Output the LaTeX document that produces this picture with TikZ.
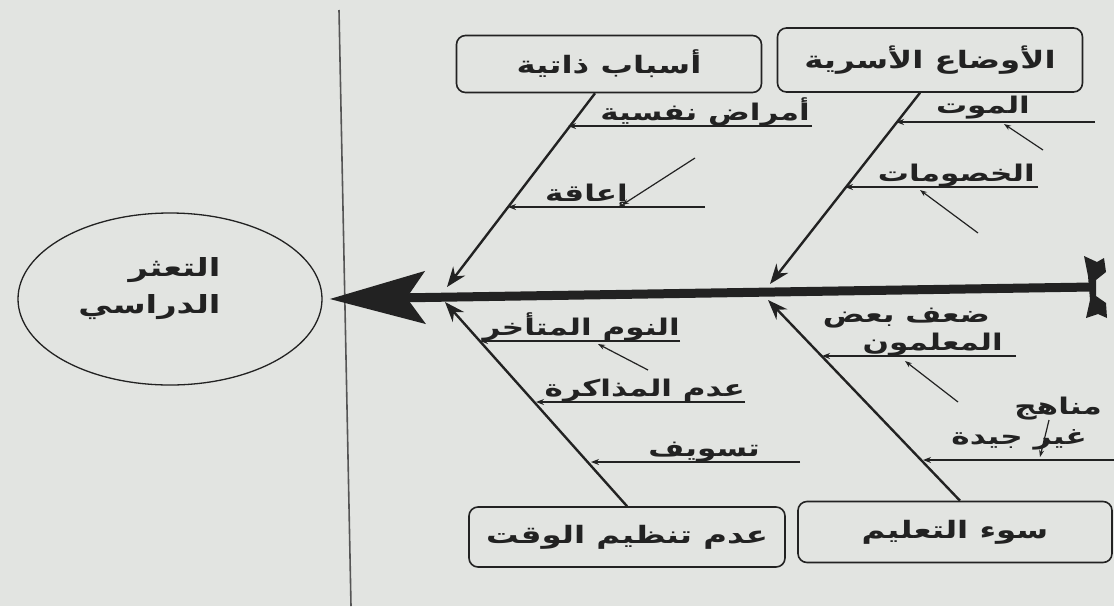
\documentclass[tikz,border=0pt]{standalone}
\usepackage{fontspec}
\usetikzlibrary{arrows.meta,shapes.geometric,calc}
\newfontfamily\arabicfont[Script=Arabic,FakeStretch=1.35]{DejaVu Sans}
\TeXXeTstate=1
\definecolor{bg}{RGB}{226,228,225}
\definecolor{ink}{RGB}{34,34,34}
\definecolor{rule}{RGB}{85,85,85}
\newcommand\artxt[1]{\beginR #1\endR}
\tikzset{
  box/.style={draw=ink, line width=1.6pt, rounded corners=9pt, fill=none,
    font=\arabicfont\bfseries\fontsize{24}{28}\selectfont, text=ink},
  lab/.style={font=\arabicfont\bfseries\fontsize{23}{27}\selectfont, text=ink, inner sep=0pt, anchor=base east},
  bone/.style={draw=ink, line width=2.4pt, -{Stealth[length=20pt,width=15pt]}},
  sub/.style={draw=ink, line width=1.4pt, -{Stealth[length=8pt,width=6pt]}},
  subsub/.style={draw=ink, line width=1.2pt, -{Stealth[length=7pt,width=5pt]}}
}
\begin{document}
\begin{tikzpicture}[x=1pt,y=-1pt]
\useasboundingbox (0,0) rectangle (1114,606);
\fill[bg] (0,0) rectangle (1114,606);

% divider line
\coordinate (vtop) at (339,10);
\coordinate (vbot) at (351,606);
\draw[rule, line width=1.6pt] (vtop) -- (vbot);

% effect
\node[draw=ink, line width=1.3pt, ellipse, minimum width=304pt, minimum height=172pt] (effect) at (170,299) {};
\node[font=\arabicfont\bfseries\fontsize{25}{37}\selectfont, text=ink, align=right, anchor=east] (efftext) at (224,289)
  {\artxt{التعثر}\\ \artxt{الدراسي}};

% spine
\coordinate (tail) at (1092,287);
\draw[ink, line width=9pt, -{Stealth[length=95pt,width=52pt,inset=18pt]}] (tail) -- ([xshift=7pt]effect.east);
\fill[ink] (1084,256) -- (1097,262) -- (1104,258) -- (1106,272) -- (1096,280) -- (1096,296)
  -- (1106,303) -- (1107,318) -- (1098,314) -- (1086,318) -- (1090,300) -- (1088,276) -- cycle;

% category boxes
\node[box, minimum width=305pt, minimum height=57pt] (b1) at (609,64) {\artxt{أسباب ذاتية}\hspace{36pt}};
\node[box, minimum width=305pt, minimum height=64pt] (b2) at (930,60) {\artxt{الأوضاع الأسرية}\hspace{26pt}};
\node[box, minimum width=316pt, minimum height=60pt] (b3) at (627,537) {\artxt{عدم تنظيم الوقت}};
\node[box, minimum width=314pt, minimum height=61pt] (b4) at (955,532) {\artxt{سوء التعليم}\hspace{42pt}};

% bone tips on the spine
\coordinate (t1) at (447,287);
\coordinate (t2) at (770,284);
\coordinate (t3) at (445,302);
\coordinate (t4) at (768,300);

\draw[bone] ([xshift=-14pt]b1.south) -- (t1);
\draw[bone] ([xshift=-10pt]b2.south) -- (t2);
\draw[bone] (b3.north) -- (t3);
\draw[bone] ([xshift=5pt]b4.north) -- (t4);

% sub causes: upper left bone
\node[lab] (l1) at (810,120) {\artxt{أمراض نفسية}};
\coordinate (l1r) at (812,126); \coordinate (l1b) at (568,126);
\draw[sub] (l1r) -- (l1b);
\node[lab] (l2) at (628,201) {\artxt{إعاقة}};
\coordinate (l2r) at (705,207); \coordinate (l2b) at (508,207);
\draw[sub] (l2r) -- (l2b);
\coordinate (d2s) at (695,158); \coordinate (d2e) at (622,205);
\draw[subsub] (d2s) -- (d2e);

% upper right bone
\node[lab] (l3) at (1030,113) {\artxt{الموت}};
\coordinate (l3r) at (1095,122); \coordinate (l3b) at (896,122);
\draw[sub] (l3r) -- (l3b);
\coordinate (d3s) at (1043,150); \coordinate (d3e) at (1004,124);
\draw[subsub] (d3s) -- (d3e);
\node[lab] (l4) at (1035,181) {\artxt{الخصومات}};
\coordinate (l4r) at (1038,187); \coordinate (l4b) at (845,187);
\draw[sub] (l4r) -- (l4b);
\coordinate (d4s) at (978,233); \coordinate (d4e) at (920,190);
\draw[subsub] (d4s) -- (d4e);

% lower left bone
\node[lab] (l5) at (680,335) {\artxt{النوم المتأخر}};
\coordinate (l5r) at (680,341); \coordinate (l5b) at (480,341);
\draw[sub] (l5r) -- (l5b);
\coordinate (d5s) at (648,370); \coordinate (d5e) at (598,344);
\draw[subsub] (d5s) -- (d5e);
\node[lab] (l6) at (745,396) {\artxt{عدم المذاكرة}};
\coordinate (l6r) at (745,402); \coordinate (l6b) at (536,402);
\draw[sub] (l6r) -- (l6b);
\node[lab] (l7) at (760,456) {\artxt{تسويف}};
\coordinate (l7r) at (800,462); \coordinate (l7b) at (591,462);
\draw[sub] (l7r) -- (l7b);

% lower right bone
\node[lab] (l8a) at (990,322) {\artxt{ضعف بعض}};
\node[lab] (l8b) at (1003,350) {\artxt{المعلمون}};
\coordinate (l8r) at (1016,356); \coordinate (l8e) at (822,356);
\draw[sub] (l8r) -- (l8e);
\coordinate (d8s) at (958,402); \coordinate (d8e) at (905,361);
\draw[subsub] (d8s) -- (d8e);
\node[lab] (l9a) at (1102,414) {\artxt{مناهج}};
\node[lab] (l9b) at (1087,444) {\artxt{غير جيدة}};
\coordinate (l9r) at (1114,460); \coordinate (l9e) at (923,460);
\draw[sub] (l9r) -- (l9e);
\coordinate (d9s) at (1049,420); \coordinate (d9e) at (1040,457);
\draw[subsub] (d9s) -- (d9e);
\end{tikzpicture}
\end{document}
